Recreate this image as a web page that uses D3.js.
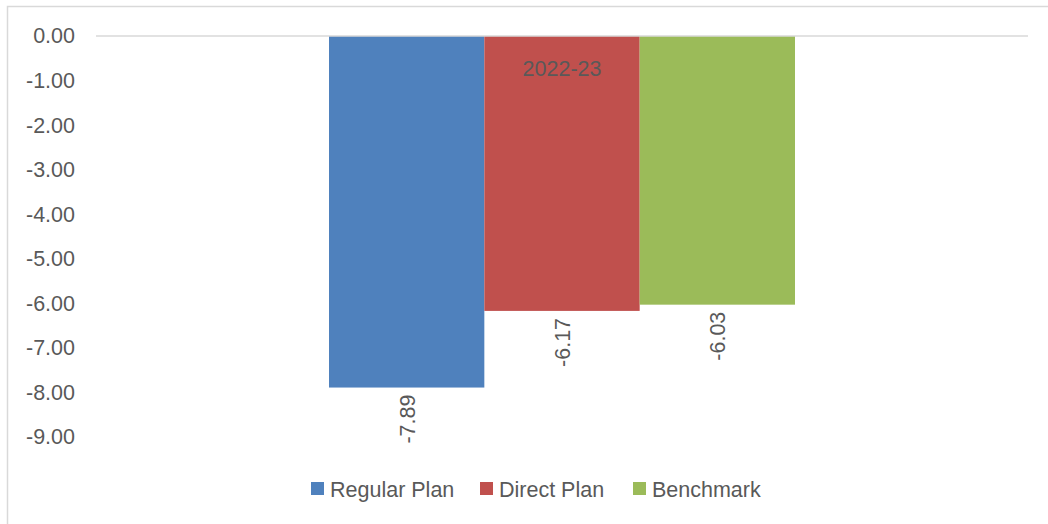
<!DOCTYPE html>
<html>
<head>
<meta charset="utf-8">
<script src="https://cdn.jsdelivr.net/npm/d3@7"></script>
<style>
  body { margin: 0; background: #fff; }
  text { font-family: "Liberation Sans", Arial, sans-serif; fill: #595959; }
</style>
</head>
<body>
<script>
// chart data
var categories = ["2022-23"];
var seriesNames = ["Regular Plan", "Direct Plan", "Benchmark"];
var seriesValues = [-7.89, -6.17, -6.03];
var tickValues = [0, -1, -2, -3, -4, -5, -6, -7, -8, -9];
var colors = ["#4F81BD", "#C0504D", "#9BBB59"];

var svgWidth = 1048, svgHeight = 524;
var margin = {top: 36, left: 96, right: 20, bottom: 87};
var width = svgWidth - margin.left - margin.right;
var height = svgHeight - margin.top - margin.bottom;
var fontSize = "21.5px";

// plain hyphen for negatives, like the original
var fmt = d => d3.format(".2f")(d).replace("\u2212", "-");

var svg = d3.select("body").append("svg")
  .attr("width", svgWidth)
  .attr("height", svgHeight);

// outer chart border (right/bottom run off the page)
svg.append("rect")
  .attr("x", 7.5).attr("y", 6.5)
  .attr("width", 1060).attr("height", 540)
  .attr("fill", "none").attr("stroke", "#d9d9d9").attr("stroke-width", 1.5);

var g = svg.append("g").attr("transform", `translate(${margin.left}, ${margin.top})`);

var y = d3.scaleLinear().domain([0, -9]).range([0, 401]);
var x0 = d3.scaleBand().domain(categories).range([0, width]).paddingInner(0).paddingOuter(0.5);
var x1 = d3.scaleBand().domain(seriesNames).range([0, x0.bandwidth()]);

// y axis labels
var yAxis = d3.axisLeft(y).tickValues(tickValues).tickFormat(fmt).tickSize(0).tickPadding(21);
g.append("g").call(yAxis)
  .call(a => a.select(".domain").remove())
  .selectAll("text")
  .style("font-size", fontSize)
  .style("fill", "#595959");

// bars
var rows = seriesNames.map((s, i) => ({name: s, value: seriesValues[i], color: colors[i]}));
var cat = g.selectAll(".cat").data(categories).enter().append("g")
  .attr("transform", d => `translate(${x0(d)},0)`);

cat.selectAll("rect").data(rows).enter().append("rect")
  .attr("x", d => x1(d.name))
  .attr("y", d => y(0))
  .attr("width", x1.bandwidth())
  .attr("height", d => y(d.value) - y(0))
  .attr("fill", d => d.color);

// zero line
g.append("line")
  .attr("x1", 0).attr("x2", width)
  .attr("y1", y(0)).attr("y2", y(0))
  .attr("stroke", "#d9d9d9").attr("stroke-width", 1.5);

// category label (sits at top, inside bars)
cat.append("text")
  .attr("x", x0.bandwidth() / 2)
  .attr("y", y(0) + 40)
  .attr("text-anchor", "middle")
  .style("font-size", fontSize)
  .text(d => d);

// data labels, rotated
cat.selectAll(".lbl").data(rows).enter().append("text")
  .attr("transform", d => `translate(${x1(d.name) + x1.bandwidth() / 2 + 8}, ${y(d.value) + 7}) rotate(-90)`)
  .attr("text-anchor", "end")
  .style("font-size", fontSize)
  .text(d => fmt(d.value));

// legend
var legendX = [311, 480, 633];
var legend = svg.selectAll(".legend").data(rows).enter().append("g")
  .attr("transform", (d, i) => `translate(${legendX[i]}, 482)`);
legend.append("rect").attr("width", 13).attr("height", 13).attr("fill", d => d.color);
legend.append("text").attr("x", 19).attr("y", 14.5)
  .style("font-size", fontSize)
  .text(d => d.name);
</script>
</body>
</html>
